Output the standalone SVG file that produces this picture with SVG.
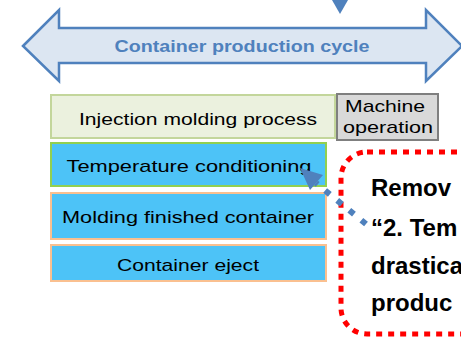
<svg xmlns="http://www.w3.org/2000/svg" width="461" height="343" viewBox="0 0 461 343">
<style>
.t{font-family:"Liberation Sans",Arial,sans-serif;font-size:17px;fill:#000}
.b{font-family:"Liberation Sans",Arial,sans-serif;font-weight:bold;font-size:24px;fill:#000}
.blue{fill:#4dc3f7}
</style>
<rect width="461" height="343" fill="#fff"/>
<g id="top-arrow"><polygon points="332,0 348,0 340,14" fill="#4f81bd"/></g>
<g id="cycle">
<polygon points="23,46 59,10 59,28 426,28 426,10 462,46 426,81 426,63 59,63 59,81" fill="#dce6f2" stroke="#4f81bd" stroke-width="2.5" stroke-linejoin="miter"/>
<text x="242" y="52" text-anchor="middle" font-family="Liberation Sans,Arial,sans-serif" font-weight="bold" font-size="17" fill="#4f81bd" textLength="255" lengthAdjust="spacingAndGlyphs">Container production cycle</text>
</g>
<g id="injection">
<rect x="51" y="95" width="284" height="43" fill="#ebf1de" stroke="#c3d69b" stroke-width="2"/>
<text class="t" x="198" y="125" text-anchor="middle" textLength="238" lengthAdjust="spacingAndGlyphs">Injection molding process</text>
</g>
<g id="machine">
<rect x="337" y="94" width="101" height="46" fill="#d9d9d9" stroke="#7f7f7f" stroke-width="2"/>
<text class="t" x="385" y="112" text-anchor="middle" textLength="80" lengthAdjust="spacingAndGlyphs">Machine</text>
<text class="t" x="388" y="133" text-anchor="middle" textLength="90" lengthAdjust="spacingAndGlyphs">operation</text>
</g>
<g id="temperature">
<rect x="51" y="143" width="275" height="43" class="blue" stroke="#92d050" stroke-width="2"/>
<text class="t" x="189" y="172" text-anchor="middle" textLength="245" lengthAdjust="spacingAndGlyphs">Temperature conditioning</text>
</g>
<g id="molding">
<rect x="51" y="193" width="275" height="46" class="blue" stroke="#fac090" stroke-width="2"/>
<text class="t" x="188" y="223" text-anchor="middle" textLength="252" lengthAdjust="spacingAndGlyphs">Molding finished container</text>
</g>
<g id="eject">
<rect x="51" y="245" width="275" height="36" class="blue" stroke="#fac090" stroke-width="2"/>
<text class="t" x="188" y="271" text-anchor="middle" textLength="142" lengthAdjust="spacingAndGlyphs">Container eject</text>
</g>
<g id="callout">
<rect x="341" y="152" width="200" height="182" rx="26" fill="#fff" stroke="#ff0000" stroke-width="5" stroke-dasharray="6 6"/>
<text class="b" x="371" y="196">Remov</text>
<text class="b" x="371" y="236">“2. Tem</text>
<text class="b" x="371" y="274">drastica</text>
<text class="b" x="371" y="311">produc</text>
</g>
<g id="connectors">
<line x1="366" y1="224" x2="316" y2="183" stroke="#4f81bd" stroke-width="6" stroke-dasharray="6 9.6"/>
<polygon points="300,168 323,175 310,190" fill="#4f81bd"/>
</g>
</svg>
